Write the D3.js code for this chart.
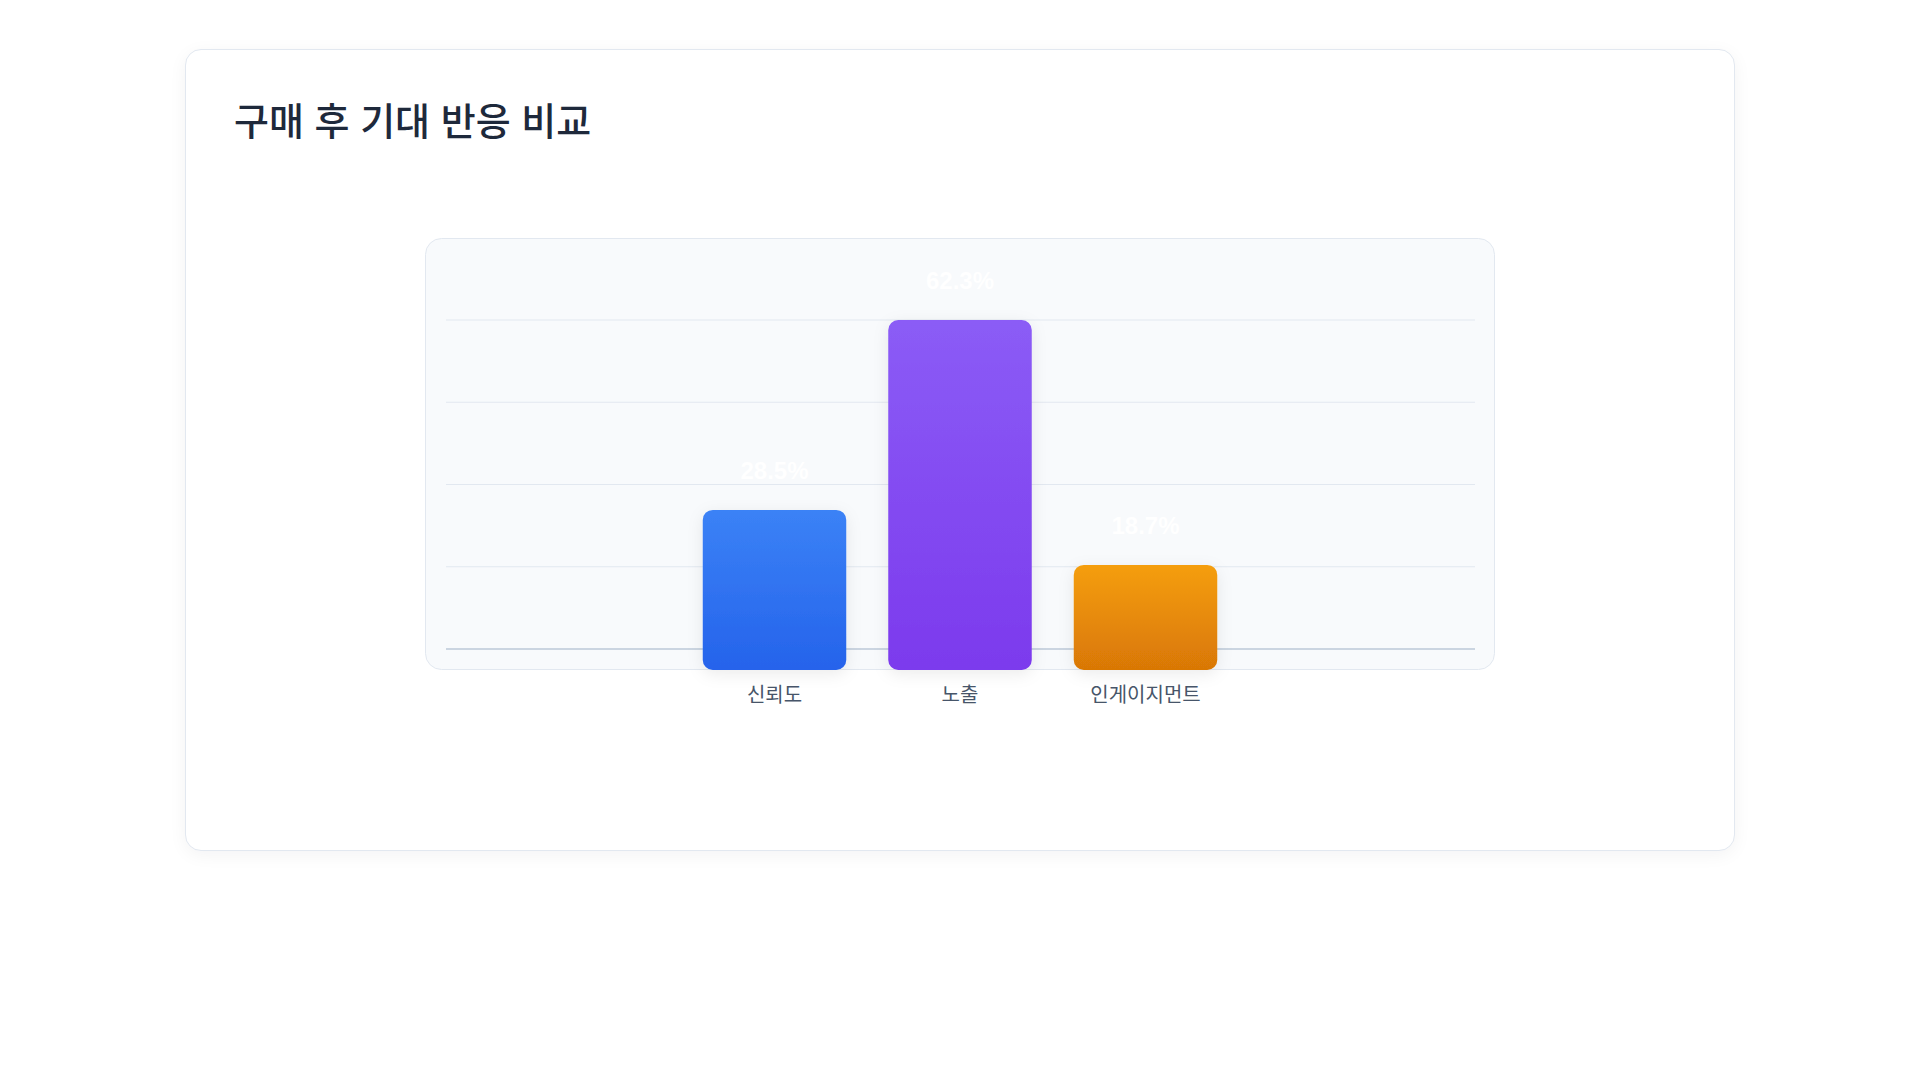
<!DOCTYPE html>
<html lang="ko">
<head>
<meta charset="utf-8">
<title>구매 후 기대 반응 비교</title>
<script src="https://cdn.jsdelivr.net/npm/d3@7"></script>
<style>
  html, body { margin: 0; padding: 0; background: #ffffff; }
  body { width: 1920px; height: 1080px; position: relative; overflow: hidden; }
  .card {
    position: absolute; left: 185px; top: 49px;
    width: 1548px; height: 800px;
    background: #ffffff;
    border: 1px solid #e2e8f0;
    border-radius: 16px;
    box-shadow: 0 4px 18px rgba(15, 23, 42, 0.05);
  }
  .card h2 {
    position: absolute; left: 48px; top: 46px; margin: 0;
    font-family: "Noto Sans CJK KR", "Noto Sans", sans-serif;
    font-size: 38px; line-height: 1.2; font-weight: 500;
    color: #1e293b;
  }
  svg.chart { position: absolute; left: 0; top: 0; }
</style>
</head>
<body>
<div class="card"><h2>구매 후 기대 반응 비교</h2></div>
<div id="chart"></div>
<script>
let categories = ["신뢰도", "노출", "인게이지먼트"];
let values = [28.5, 62.3, 18.7];
let valueLabels = ["28.5%", "62.3%", "18.7%"];
let gridSteps = [0, 1, 2, 3, 4];

let colors = [
    { top: "#3b82f6", bottom: "#2563eb" },
    { top: "#8b5cf6", bottom: "#7c3aed" },
    { top: "#f59e0b", bottom: "#d97706" }
];

let panel = { left: 425.5, top: 238.5, width: 1069, height: 431 };
let barBottom = 670;
let barTop = 320;
let step = 185.5;
let centerX = 960;

let svg = d3.select("#chart")
    .append("svg")
        .attr("class", "chart")
        .attr("width", 1920)
        .attr("height", 1080);

let defs = svg.append("defs");

colors.forEach((c, i) => {
    let g = defs.append("linearGradient")
        .attr("id", `grad${i}`)
        .attr("x1", 0).attr("y1", 0)
        .attr("x2", 0).attr("y2", 1);
    g.append("stop").attr("offset", "0%").attr("stop-color", c.top);
    g.append("stop").attr("offset", "100%").attr("stop-color", c.bottom);
});

let shadow = defs.append("filter")
    .attr("id", "barShadow")
    .attr("x", "-30%").attr("y", "-30%")
    .attr("width", "160%").attr("height", "160%");
shadow.append("feDropShadow")
    .attr("dx", 0).attr("dy", 4)
    .attr("stdDeviation", 8)
    .attr("flood-color", "#0f172a")
    .attr("flood-opacity", 0.08);

// inner panel
svg.append("rect")
    .attr("x", panel.left)
    .attr("y", panel.top)
    .attr("width", panel.width)
    .attr("height", panel.height)
    .attr("rx", 16)
    .attr("fill", "#f8fafc")
    .attr("stroke", "#e2e8f0")
    .attr("stroke-width", 1);

// grid lines
let gridScale = d3.scaleLinear()
    .domain([0, 4])
    .range([649, 320]);

svg.append("g")
    .selectAll("line")
    .data(gridSteps)
    .enter()
    .append("line")
        .attr("x1", 446)
        .attr("x2", 1475)
        .attr("y1", d => gridScale(d))
        .attr("y2", d => gridScale(d))
        .attr("stroke", d => d === 0 ? "#cbd5e1" : "#e2e8f0")
        .attr("stroke-width", d => d === 0 ? 2 : 1);

let xScale = d3.scaleBand()
    .domain(categories)
    .range([centerX - step * categories.length / 2, centerX + step * categories.length / 2])
    .paddingInner(42 / step)
    .paddingOuter(21 / step);

let yScale = d3.scaleLinear()
    .domain([0, d3.max(values)])
    .range([barBottom, barTop]);

let data = categories.map((c, i) => ({ name: c, value: values[i], label: valueLabels[i], idx: i }));

svg.append("g")
    .selectAll("rect")
    .data(data)
    .enter()
    .append("rect")
        .attr("x", d => xScale(d.name))
        .attr("y", d => yScale(d.value))
        .attr("width", xScale.bandwidth())
        .attr("height", d => barBottom - yScale(d.value))
        .attr("rx", 10)
        .attr("fill", d => `url(#grad${d.idx})`)
        .attr("filter", "url(#barShadow)");

svg.append("g")
    .selectAll("text")
    .data(data)
    .enter()
    .append("text")
        .attr("x", d => xScale(d.name) + xScale.bandwidth() / 2)
        .attr("y", d => yScale(d.value) - 31)
        .attr("text-anchor", "middle")
        .style("font-family", "'Liberation Sans', Arial, sans-serif")
        .style("font-size", "24px")
        .style("font-weight", "700")
        .attr("fill", "#ffffff")
        .text(d => d.label);

let xAxis = d3.axisBottom(xScale)
    .tickSize(0)
    .tickPadding(0);

let axisG = svg.append("g")
    .attr("transform", "translate(0, 684)")
    .call(xAxis);
axisG.select(".domain").remove();
axisG.selectAll("text")
    .attr("dy", null)
    .attr("y", 18)
    .style("font-family", "'Noto Sans CJK KR', sans-serif")
    .style("font-size", "20px")
    .attr("fill", "#475569");
</script>
</body>
</html>
